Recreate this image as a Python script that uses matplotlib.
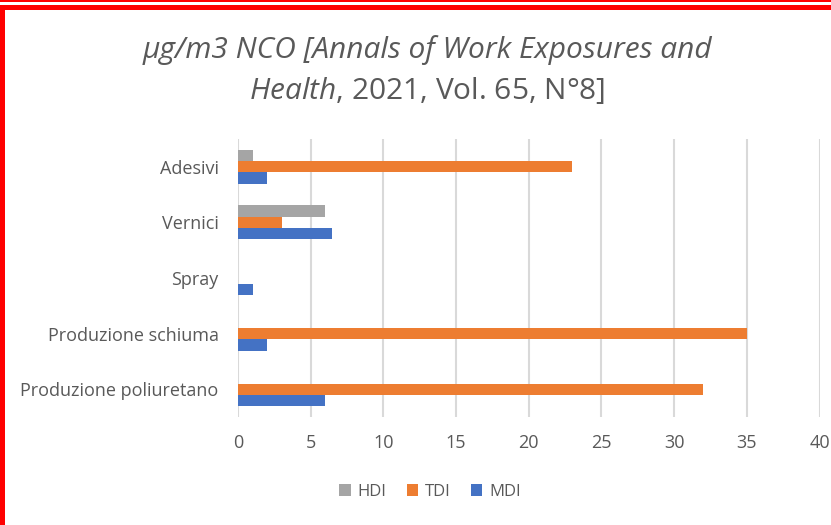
import matplotlib.pyplot as plt
from matplotlib.patches import Rectangle
import numpy as np

plt.rcParams["font.family"] = ["Open Sans", "DejaVu Sans"]
plt.rcParams["mathtext.fontset"] = "custom"
plt.rcParams["mathtext.it"] = "Open Sans:italic"
plt.rcParams["mathtext.rm"] = "Open Sans"

categories = [
    "Produzione poliuretano",
    "Produzione schiuma",
    "Spray",
    "Vernici",
    "Adesivi",
]
mdi = [6, 2, 1, 6.5, 2]
tdi = [32, 35, 0, 3, 23]
hdi = [0, 0, 0, 6, 1]

series = ["HDI", "TDI", "MDI"]
colors = {"HDI": "#A5A5A5", "TDI": "#ED7D31", "MDI": "#4472C4"}
text_color = "#595959"

fig = plt.figure(figsize=(8.31, 5.25), dpi=100)
ax = fig.add_axes([238 / 831, 1 - 417 / 525, (819.5 - 238) / 831, (417 - 139) / 525])

y = np.arange(len(categories))
h = 0.204
ax.barh(y - h, mdi, h, color=colors["MDI"], label="MDI", zorder=3)
ax.barh(y, tdi, h, color=colors["TDI"], label="TDI", zorder=3)
ax.barh(y + h, hdi, h, color=colors["HDI"], label="HDI", zorder=3)

ax.set_xlim(0, 40)
ax.set_ylim(-0.5, len(categories) - 0.5)
ax.set_xticks(range(0, 41, 5))
ax.set_yticks(y)
ax.set_yticklabels(categories)
ax.grid(axis="x", color="#d9d9d9", linewidth=1.5, zorder=0)
for s in ax.spines.values():
    s.set_visible(False)
ax.tick_params(length=0, labelsize=13, colors=text_color)
ax.tick_params(axis="x", pad=12)
ax.tick_params(axis="y", pad=14)

handles, labels = ax.get_legend_handles_labels()
order = [2, 1, 0]
leg = fig.legend(
    [handles[i] for i in order],
    [labels[i] for i in order],
    loc="center",
    bbox_to_anchor=(430 / 831, 1 - 492 / 525),
    ncol=3,
    frameon=False,
    fontsize=12,
    handlelength=0.7,
    handleheight=0.7,
    handletextpad=0.4,
    columnspacing=1.2,
)
for t in leg.get_texts():
    t.set_color(text_color)

fig.text(427 / 831, 1 - 50 / 525, "µg/m3 NCO [Annals of Work Exposures and",
         ha="center", va="center", fontsize=21.5, style="italic", color=text_color)
fig.text(427 / 831, 1 - 90 / 525, r"$Health$, 2021, Vol. 65, N°8]",
         ha="center", va="center", fontsize=21.5, color=text_color)

# red frame from the screenshot
W, H = 831, 525
fig.add_artist(Rectangle((0, 1 - 1.5 / H), 1, 1.5 / H, transform=fig.transFigure,
                         color="#ff0000", lw=0))
fig.add_artist(Rectangle((0, 1 - 10 / H), 1, 5 / H, transform=fig.transFigure,
                         color="#ff0000", lw=0))
fig.add_artist(Rectangle((0, 0), 5 / W, 1 - 5 / H, transform=fig.transFigure,
                         color="#ff0000", lw=0))

fig.savefig("out.png", dpi=100)
